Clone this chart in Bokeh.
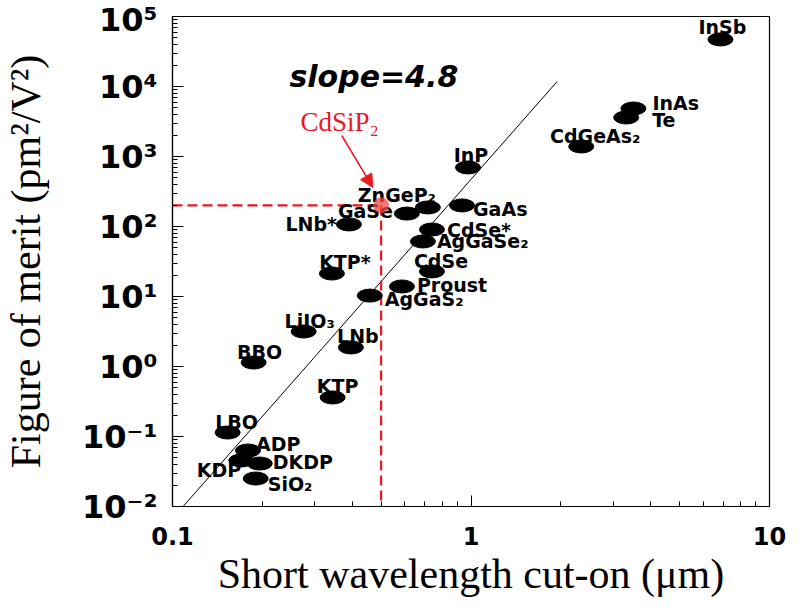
from bokeh.plotting import figure
from bokeh.models import (ColumnDataSource, FixedTicker, CustomJSTickFormatter,
                          Arrow, NormalHead, Label)
from bokeh.embed import file_html
from bokeh.resources import INLINE
from bokeh.core.properties import value

# ---------------- data ----------------
materials = ["InSb", "InAs", "Te", "CdGeAs₂", "InP", "ZnGeP₂", "GaSe", "GaAs",
             "LNb*", "CdSe*", "AgGaSe₂", "KTP*", "CdSe", "Proust", "AgGaS₂",
             "LiIO₃", "LNb", "BBO", "KTP", "LBO", "ADP", "KDP", "DKDP", "SiO₂"]
cut_on_um = [6.85, 3.50, 3.31, 2.34, 0.977, 0.717, 0.610, 0.933,
             0.390, 0.740, 0.690, 0.342, 0.740, 0.587, 0.458,
             0.275, 0.396, 0.187, 0.344, 0.153, 0.179, 0.170, 0.196, 0.190]
figure_of_merit = [47000, 4850, 3610, 1390, 697, 187, 153, 200,
                   107, 90.6, 61.1, 21.3, 22.8, 13.9, 10.3,
                   3.16, 1.87, 1.14, 0.361, 0.114, 0.063, 0.0454, 0.0411, 0.0251]

highlight_name = "CdSiP₂"
highlight_cut_on = [0.5]
highlight_fom = [200]

fit_x = [0.1, 1.944]
fit_y = [0.00674, 11790]
fit_text = "slope=4.8"

x_tick_values = [0.1, 1, 10]
x_tick_labels = ["0.1", "1", "10"]
y_tick_values = [1e-2, 1e-1, 1, 10, 100, 1e3, 1e4, 1e5]
y_tick_labels = ["10⁻²", "10⁻¹", "10⁰", "10¹", "10²", "10³", "10⁴", "10⁵"]

x_title = "Short wavelength cut-on (μm)"
y_title = "Figure of merit (pm²/V²)"

# ---------------- label styling (screen offsets) ----------------
label_style = {
    "InSb": ("center", 2, -12), "InAs": ("left", 19, -5), "Te": ("left", 26, 3),
    "CdGeAs₂": ("center", 14, -10), "InP": ("center", 3, -12),
    "ZnGeP₂": ("right", 8, -12), "GaSe": ("right", -14, -3),
    "GaAs": ("left", 11, 4), "LNb*": ("right", -12, 0), "CdSe*": ("left", 15, 0),
    "AgGaSe₂": ("left", 14, 0), "KTP*": ("center", 13, -12),
    "CdSe": ("center", 9, -10), "Proust": ("left", 15, -1),
    "AgGaS₂": ("left", 15, 3), "LiIO₃": ("center", 6, -11),
    "LNb": ("center", 7, -11), "BBO": ("center", 6, -11),
    "KTP": ("center", 5, -11), "LBO": ("center", 9, -11),
    "ADP": ("left", 8, -7), "KDP": ("right", 0, 9),
    "DKDP": ("left", 13, -2), "SiO₂": ("left", 12, 5),
}

RED = "#e8191e"

p = figure(width=800, height=610, x_axis_type="log", y_axis_type="log",
           x_range=(0.1, 10), y_range=(0.01, 1e5),
           output_backend="svg", toolbar_location=None,
           min_border_left=172, min_border_right=31,
           min_border_top=16, min_border_bottom=104)
p.grid.visible = False
p.outline_line_color = "black"
p.outline_line_width = 1.2
p.background_fill_color = "white"
p.border_fill_color = "white"

minor_x = [m * 10.0 ** e for e in (-1, 0) for m in range(2, 10)]
minor_y = [m * 10.0 ** e for e in range(-2, 5) for m in range(2, 10)]
p.xaxis.ticker = FixedTicker(ticks=x_tick_values, minor_ticks=minor_x)
p.yaxis.ticker = FixedTicker(ticks=y_tick_values, minor_ticks=minor_y)

fmt_code = """
for (let i = 0; i < vals.length; i++) {
  if (Math.abs(Math.log10(vals[i]) - Math.log10(tick)) < 1e-6) return labs[i];
}
return "";
"""
p.xaxis.formatter = CustomJSTickFormatter(args=dict(vals=x_tick_values, labs=x_tick_labels), code=fmt_code)
p.yaxis.formatter = CustomJSTickFormatter(args=dict(vals=y_tick_values, labs=y_tick_labels), code=fmt_code)

for ax in (p.xaxis[0], p.yaxis[0]):
    ax.axis_line_color = "black"
    ax.axis_line_width = 1.2
    ax.major_tick_in = 11
    ax.major_tick_out = 0
    ax.minor_tick_in = 5
    ax.minor_tick_out = 0
    ax.major_tick_line_color = "black"
    ax.minor_tick_line_color = "black"
    ax.major_label_text_font = "DejaVu Sans"
    ax.major_label_text_font_style = "bold"
    ax.major_label_text_color = "black"
    ax.axis_label_text_font = "Liberation Serif"
    ax.axis_label_text_font_style = "normal"
    ax.axis_label_text_font_size = "42px"
    ax.axis_label_text_color = "black"

p.xaxis.axis_label = x_title
p.yaxis.axis_label = y_title
p.xaxis.major_label_text_font_size = "24px"
p.yaxis.major_label_text_font_size = "32px"
p.xaxis.major_label_standoff = 20
p.yaxis.major_label_standoff = 15
p.xaxis.axis_label_standoff = 3
p.yaxis.axis_label_standoff = 30

# fit line
p.line(fit_x, fit_y, line_color="black", line_width=1)

# red dashed guide lines to CdSiP2
p.line([x_tick_values[0], highlight_cut_on[0]], [highlight_fom[0], highlight_fom[0]],
       line_color=RED, line_width=2.2, line_dash="10 5")
p.line([highlight_cut_on[0], highlight_cut_on[0]], [highlight_fom[0], y_tick_values[0]],
       line_color=RED, line_width=2.2, line_dash="10 5")

# data markers
src = ColumnDataSource(dict(x=cut_on_um, y=figure_of_merit, name=materials))
p.ellipse(x="x", y="y", width=25, height=13, width_units="screen", height_units="screen",
          source=src, fill_color="black", line_color="black")

# labels
for align in ("left", "center", "right"):
    names = [n for n in materials if label_style[n][0] == align]
    idx = [materials.index(n) for n in names]
    s = ColumnDataSource(dict(
        x=[cut_on_um[i] for i in idx], y=[figure_of_merit[i] for i in idx], name=names,
        dx=[label_style[n][1] for n in names], dy=[label_style[n][2] for n in names]))
    p.text(x="x", y="y", text="name", source=s, x_offset="dx", y_offset="dy",
           text_align=align, text_baseline="middle",
           text_font=value("DejaVu Sans"), text_font_style="bold",
           text_font_size="19px", text_color="black")

# highlighted point
p.scatter(highlight_cut_on, highlight_fom, marker="circle", size=16,
          fill_color="#f04848", fill_alpha=0.75, line_color=None)

# arrow and red label
p.add_layout(Arrow(end=NormalHead(size=13, fill_color=RED, line_color=RED),
                   x_start=0.369, y_start=1995, x_end=0.469, y_end=361,
                   line_color=RED, line_width=1.5))
p.add_layout(Label(x=0.363, y=3162, text=highlight_name, text_align="center",
                   text_baseline="middle", text_font="Liberation Serif",
                   text_font_size="27px", text_color=RED))

# slope annotation
p.add_layout(Label(x=0.4726, y=13900, text=fit_text, text_align="center",
                   text_baseline="middle", text_font="DejaVu Sans",
                   text_font_style="bold italic", text_font_size="30px",
                   text_color="black"))

open("out.html", "w").write(file_html(p, INLINE))
